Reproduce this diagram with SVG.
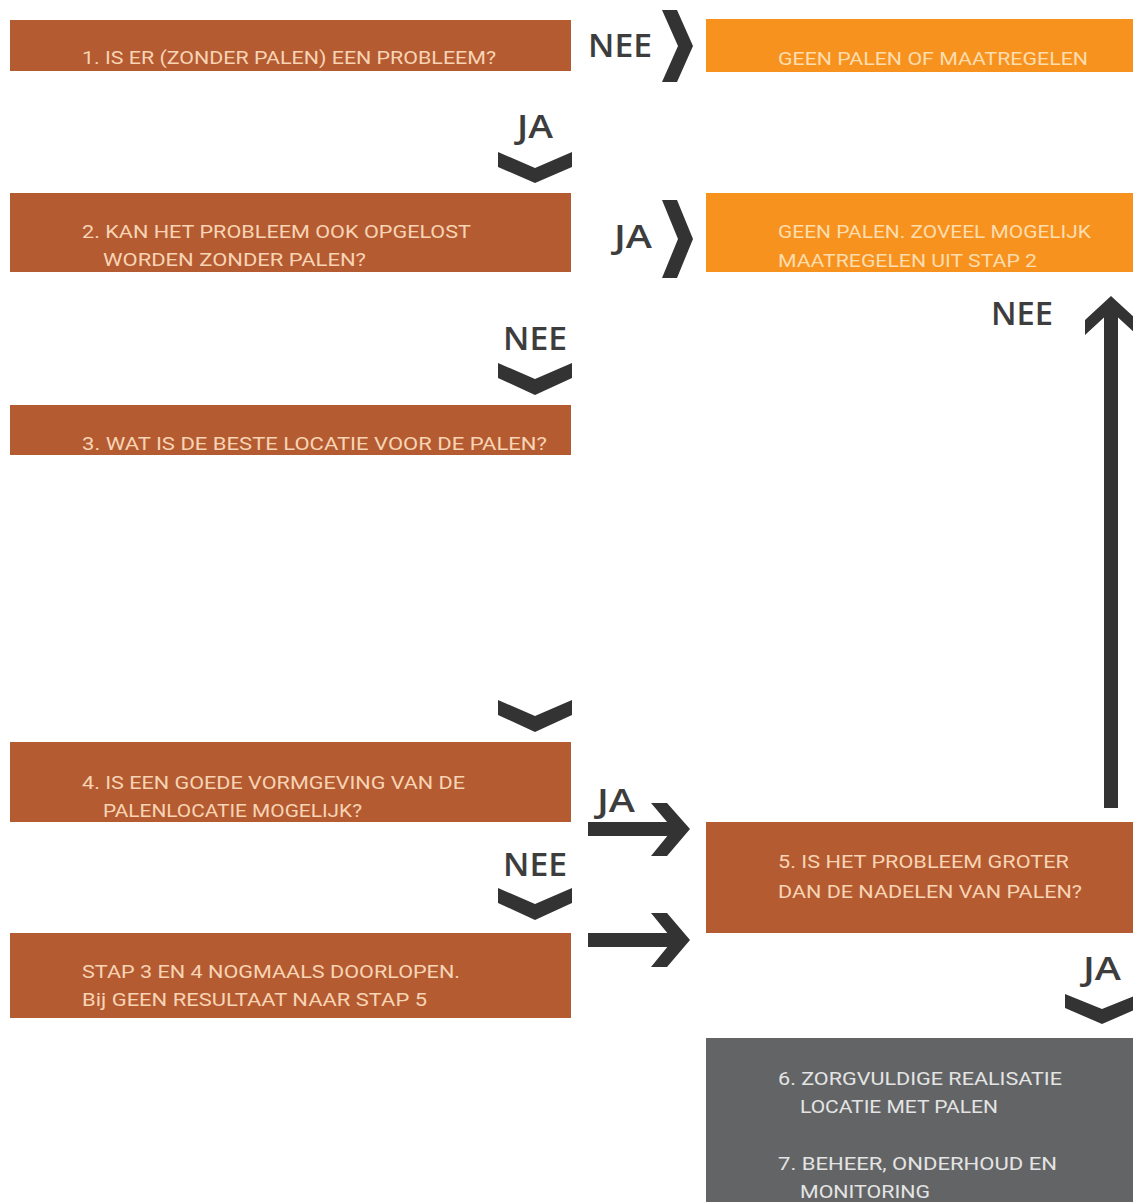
<svg xmlns="http://www.w3.org/2000/svg" width="1133" height="1202" viewBox="0 0 1133 1202">
<style>
.rust{fill:#B45B32}
.orange{fill:#F7921F}
.gray{fill:#636466}
.t{font-family:Roboto,"Liberation Sans",sans-serif;font-size:19px}
.tr{fill:#F8D4B4}
.to{fill:#FDDDAE}
.tg{fill:#E4E4E4}
.lbl{font-family:"Open Sans","Liberation Sans",sans-serif;font-size:33px;font-weight:600;fill:#3d3d3d}
.arr{fill:#333333}
</style>
<rect width="1133" height="1202" fill="#ffffff"/>

<g id="node-1">
<rect class="rust" x="10" y="20" width="561" height="51"/>
<text class="t tr" x="82" y="64" textLength="414" lengthAdjust="spacingAndGlyphs">1. IS ER (ZONDER PALEN) EEN PROBLEEM?</text>
</g>
<g id="node-geen-palen">
<rect class="orange" x="706" y="19" width="427" height="53"/>
<text class="t to" x="778" y="65" textLength="310" lengthAdjust="spacingAndGlyphs">GEEN PALEN OF MAATREGELEN</text>
</g>
<g id="node-2">
<rect class="rust" x="10" y="193" width="561" height="79"/>
<text class="t tr" x="82" y="238" textLength="389" lengthAdjust="spacingAndGlyphs">2. KAN HET PROBLEEM OOK OPGELOST</text>
<text class="t tr" x="103" y="266" textLength="263" lengthAdjust="spacingAndGlyphs">WORDEN ZONDER PALEN?</text>
</g>
<g id="node-geen-palen-2">
<rect class="orange" x="706" y="193" width="427" height="79"/>
<text class="t to" x="778" y="238" textLength="313" lengthAdjust="spacingAndGlyphs">GEEN PALEN. ZOVEEL MOGELIJK</text>
<text class="t to" x="778" y="267" textLength="259" lengthAdjust="spacingAndGlyphs">MAATREGELEN UIT STAP 2</text>
</g>
<g id="node-3">
<rect class="rust" x="10" y="405" width="561" height="50"/>
<text class="t tr" x="82" y="450" textLength="465" lengthAdjust="spacingAndGlyphs">3. WAT IS DE BESTE LOCATIE VOOR DE PALEN?</text>
</g>
<g id="node-4">
<rect class="rust" x="10" y="742" width="561" height="80"/>
<text class="t tr" x="82" y="789" textLength="383" lengthAdjust="spacingAndGlyphs">4. IS EEN GOEDE VORMGEVING VAN DE</text>
<text class="t tr" x="103" y="817" textLength="259" lengthAdjust="spacingAndGlyphs">PALENLOCATIE MOGELIJK?</text>
</g>
<g id="node-stap">
<rect class="rust" x="10" y="933" width="561" height="85"/>
<text class="t tr" x="82" y="978" textLength="378" lengthAdjust="spacingAndGlyphs">STAP 3 EN 4 NOGMAALS DOORLOPEN.</text>
<text class="t tr" x="82" y="1006" textLength="345" lengthAdjust="spacingAndGlyphs">Bij GEEN RESULTAAT NAAR STAP 5</text>
</g>
<g id="node-5">
<rect class="rust" x="706" y="822" width="427" height="111"/>
<text class="t tr" x="778" y="868" textLength="291" lengthAdjust="spacingAndGlyphs">5. IS HET PROBLEEM GROTER</text>
<text class="t tr" x="778" y="898" textLength="304" lengthAdjust="spacingAndGlyphs">DAN DE NADELEN VAN PALEN?</text>
</g>
<g id="node-6-7">
<rect class="gray" x="706" y="1038" width="427" height="164"/>
<text class="t tg" x="778" y="1085" textLength="284" lengthAdjust="spacingAndGlyphs">6. ZORGVULDIGE REALISATIE</text>
<text class="t tg" x="800" y="1113" textLength="198" lengthAdjust="spacingAndGlyphs">LOCATIE MET PALEN</text>
<text class="t tg" x="778" y="1170" textLength="279" lengthAdjust="spacingAndGlyphs">7. BEHEER, ONDERHOUD EN</text>
<text class="t tg" x="800" y="1198" textLength="130" lengthAdjust="spacingAndGlyphs">MONITORING</text>
</g>

<g id="connectors">
<polygon class="arr" points="662,10 677,10 693,46 677,82 662,82 678,46"/>
<text class="lbl" x="588" y="57" textLength="64" lengthAdjust="spacingAndGlyphs">NEE</text>
<text class="lbl" x="517" y="138" textLength="36" lengthAdjust="spacingAndGlyphs">JA</text>
<polygon class="arr" points="498,152 535,168 572,152 572,167 535,183 498,167"/>
<text class="lbl" x="614" y="248" textLength="38" lengthAdjust="spacingAndGlyphs">JA</text>
<polygon class="arr" points="662,200 677,200 693,239 677,278 662,278 678,239"/>
<text class="lbl" x="503" y="350" textLength="64" lengthAdjust="spacingAndGlyphs">NEE</text>
<polygon class="arr" points="498,363 535,379 572,363 572,378 535,395 498,378"/>
<polygon class="arr" points="498,700 535,716 572,700 572,715 535,732 498,715"/>
<text class="lbl" x="597" y="812" textLength="38" lengthAdjust="spacingAndGlyphs">JA</text>
<rect class="arr" x="588" y="822" width="86" height="14"/>
<polygon class="arr" points="651,803 667,803 690,829 667,856 651,856 673,829"/>
<text class="lbl" x="503" y="876" textLength="64" lengthAdjust="spacingAndGlyphs">NEE</text>
<polygon class="arr" points="498,888 535,904 572,888 572,903 535,920 498,903"/>
<rect class="arr" x="588" y="933" width="86" height="14"/>
<polygon class="arr" points="651,913 667,913 690,940 667,967 651,967 673,940"/>
<text class="lbl" x="991" y="325" textLength="62" lengthAdjust="spacingAndGlyphs">NEE</text>
<rect class="arr" x="1104" y="305" width="14" height="503"/>
<polygon class="arr" points="1111,296 1138,321 1138,336 1111,311 1085,335 1085,320"/>
<text class="lbl" x="1083" y="980" textLength="38" lengthAdjust="spacingAndGlyphs">JA</text>
<polygon class="arr" points="1065,994 1102,1009 1139,994 1139,1008 1102,1024 1065,1008"/>
</g>
</svg>
